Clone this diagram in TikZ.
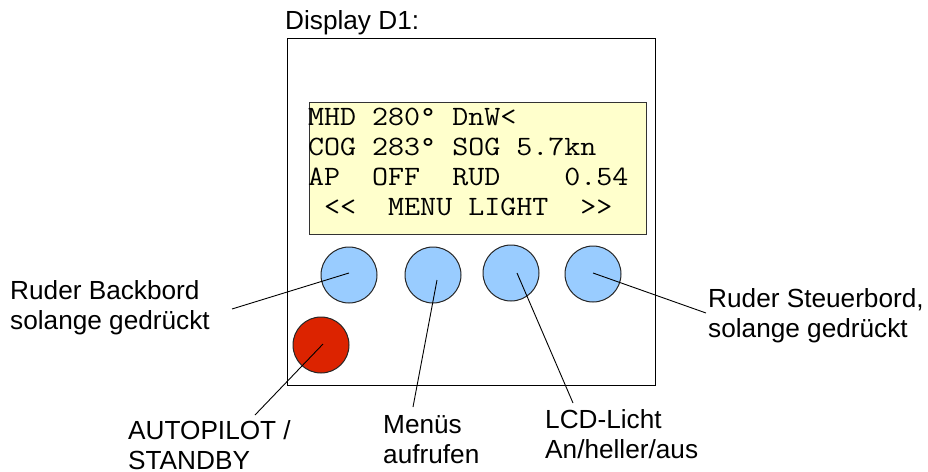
\documentclass[tikz,border=0pt]{standalone}
\usepackage{fontspec}
\setmainfont{Liberation Sans}
\newfontfamily\lcdfont[FakeStretch=1.11]{Latin Modern Mono}
\definecolor{btnblue}{HTML}{99CCFF}
\definecolor{btnred}{HTML}{DC2300}
\definecolor{lcdyellow}{HTML}{FFFFCC}
\begin{document}
\begin{tikzpicture}[x=1pt,y=-1pt,
  btn/.style={circle,draw=black!85,line width=1pt,minimum size=56pt,inner sep=0pt},
  lbl/.style={anchor=base west,inner sep=0pt,font=\fontsize{26.2}{30}\selectfont},
  conn/.style={draw=black,line width=0.9pt}]
\useasboundingbox (0,0) rectangle (928,471);
% outer housing
\node[draw=black,line width=1.4pt,minimum width=368pt,minimum height=347pt,inner sep=0pt,anchor=north west] (housing) at (287,38) {};
% LCD
\node[draw=black!80,fill=lcdyellow,line width=1pt,minimum width=337pt,minimum height=132pt,inner sep=0pt,anchor=north west] (lcd) at (309,102) {};
\node[anchor=base west,inner sep=0pt] (lcdtext) at (308,125)
 {\lcdfont\fontsize{28}{30.3}\selectfont\def\arraystretch{1}%
  \begin{tabular}[t]{@{}l@{}}
  MHD~280°~DnW<\\
  COG~283°~SOG~5.7kn\\
  AP~~OFF~~RUD~~~~0.54\\
  ~<<~~MENU~LIGHT~~>>
  \end{tabular}};
% title
\node[lbl] (title) at (285,29) {Display D1:};
% buttons
\node[btn,fill=btnblue] (b1) at (349,275) {};
\node[btn,fill=btnblue] (b2) at (433,275) {};
\node[btn,fill=btnblue] (b3) at (511,273) {};
\node[btn,fill=btnblue] (b4) at (593,274) {};
\node[btn,fill=btnred] (bred) at (321,345) {};
% labels
\node[lbl] (l1) at (10,299) {\begin{tabular}[t]{@{}l@{}}Ruder Backbord\\solange gedrückt\end{tabular}};
\node[lbl] (l4) at (708,307) {\begin{tabular}[t]{@{}l@{}}Ruder Steuerbord,\\solange gedrückt\end{tabular}};
\node[lbl] (l5) at (128,439) {\begin{tabular}[t]{@{}l@{}}AUTOPILOT /\\STANDBY\end{tabular}};
\node[lbl] (l2) at (383,433) {\begin{tabular}[t]{@{}l@{}}Menüs\\aufrufen\end{tabular}};
\node[lbl] (l3) at (545,428) {\begin{tabular}[t]{@{}l@{}}LCD-Licht\\An/heller/aus\end{tabular}};
% connector ends
\coordinate (e1) at (232,309);
\coordinate (e2) at (413,407);
\coordinate (e3) at (573,403);
\coordinate (e4) at (706,313);
\coordinate (e5) at (255,415);
% connectors
\draw[conn] ([shift={(0,-2)}]b1.center) -- (e1);
\draw[conn] ([shift={(4,5)}]b2.center) -- (e2);
\draw[conn] ([shift={(6,0)}]b3.center) -- (e3);
\draw[conn] ([shift={(0,-1)}]b4.center) -- (e4);
\draw[conn] ([shift={(2,-1)}]bred.center) -- (e5);
\end{tikzpicture}
\end{document}
